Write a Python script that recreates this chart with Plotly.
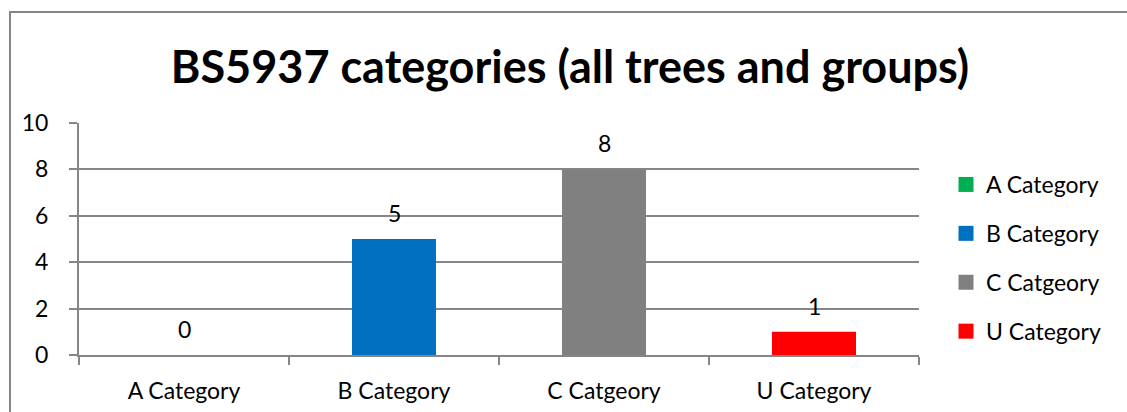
import plotly.graph_objects as go

categories = ["A Category", "B Category", "C Catgeory", "U Category"]
values = [0, 5, 8, 1]
colors = ["#00B050", "#0070C0", "#808080", "#FF0000"]
title = "BS5937 categories (all trees and groups)"
y_ticks = [0, 2, 4, 6, 8, 10]

FONT = "Lato, 'Open Sans', sans-serif"
FS = 23

fig = go.Figure()
for cat, val, col in zip(categories, values, colors):
    fig.add_trace(go.Bar(
        x=[cat], y=[val], name=cat, marker=dict(color=col, line=dict(width=0)),
        width=0.4, showlegend=False,
    ))
    fig.add_annotation(x=cat, y=val, text=str(val), showarrow=False,
                       yanchor="middle", yshift=26,
                       font=dict(family=FONT, size=FS, color="#000000"))
# legend proxies with larger square swatches
for cat, col in zip(categories, colors):
    fig.add_trace(go.Scatter(
        x=[None], y=[None], mode="markers", name=cat, legendgroup=cat,
        marker=dict(symbol="square", size=15, color=col, line=dict(width=0)),
    ))

L, R, T, B = 79, 208, 123, 57
W, H = 1127, 412
pw, ph = W - L - R, H - T - B

fig.update_layout(
    width=W, height=H,
    margin=dict(l=L, r=R, t=T, b=B, pad=0, autoexpand=False),
    paper_bgcolor="white", plot_bgcolor="white",
    barmode="overlay",
    title=dict(text="<b>" + title + "</b>", x=570 / W, xanchor="center",
               y=1 - 67 / H, yanchor="middle",
               font=dict(family=FONT, size=45, color="#000000")),
    font=dict(family=FONT, size=FS, color="#000000"),
    legend=dict(x=(946 - L) / pw, xanchor="left", y=(H - B - 163) / ph, yanchor="top",
                tracegroupgap=16, font=dict(family=FONT, size=FS),
                bgcolor="rgba(0,0,0,0)", itemclick=False),
    showlegend=True,
)
fig.update_xaxes(
    type="category", showline=True, linecolor="#868686", linewidth=2,
    ticks="outside", ticklen=8, tickwidth=2, tickcolor="#868686",
    tickson="boundaries", showgrid=False, automargin=False,
    tickfont=dict(family=FONT, size=FS), ticklabelstandoff=14,
)
fig.update_yaxes(
    range=[0, 10], tickvals=y_ticks, showline=True, linecolor="#868686", linewidth=2,
    ticks="outside", ticklen=8, tickwidth=2, tickcolor="#868686",
    showgrid=True, gridcolor="#868686", gridwidth=2, zeroline=False, automargin=False,
    tickfont=dict(family=FONT, size=FS), ticklabelstandoff=16,
)
# outer chart border (left and top visible; right/bottom run off-canvas)
fig.add_shape(type="rect", xref="paper", yref="paper",
              x0=(10 - L) / pw, x1=(W + 5 - L) / pw,
              y0=(H - B - (H + 5)) / ph, y1=(H - B - 12) / ph,
              line=dict(color="#868686", width=2), fillcolor="rgba(0,0,0,0)", layer="below")

fig.write_html("out.html")
